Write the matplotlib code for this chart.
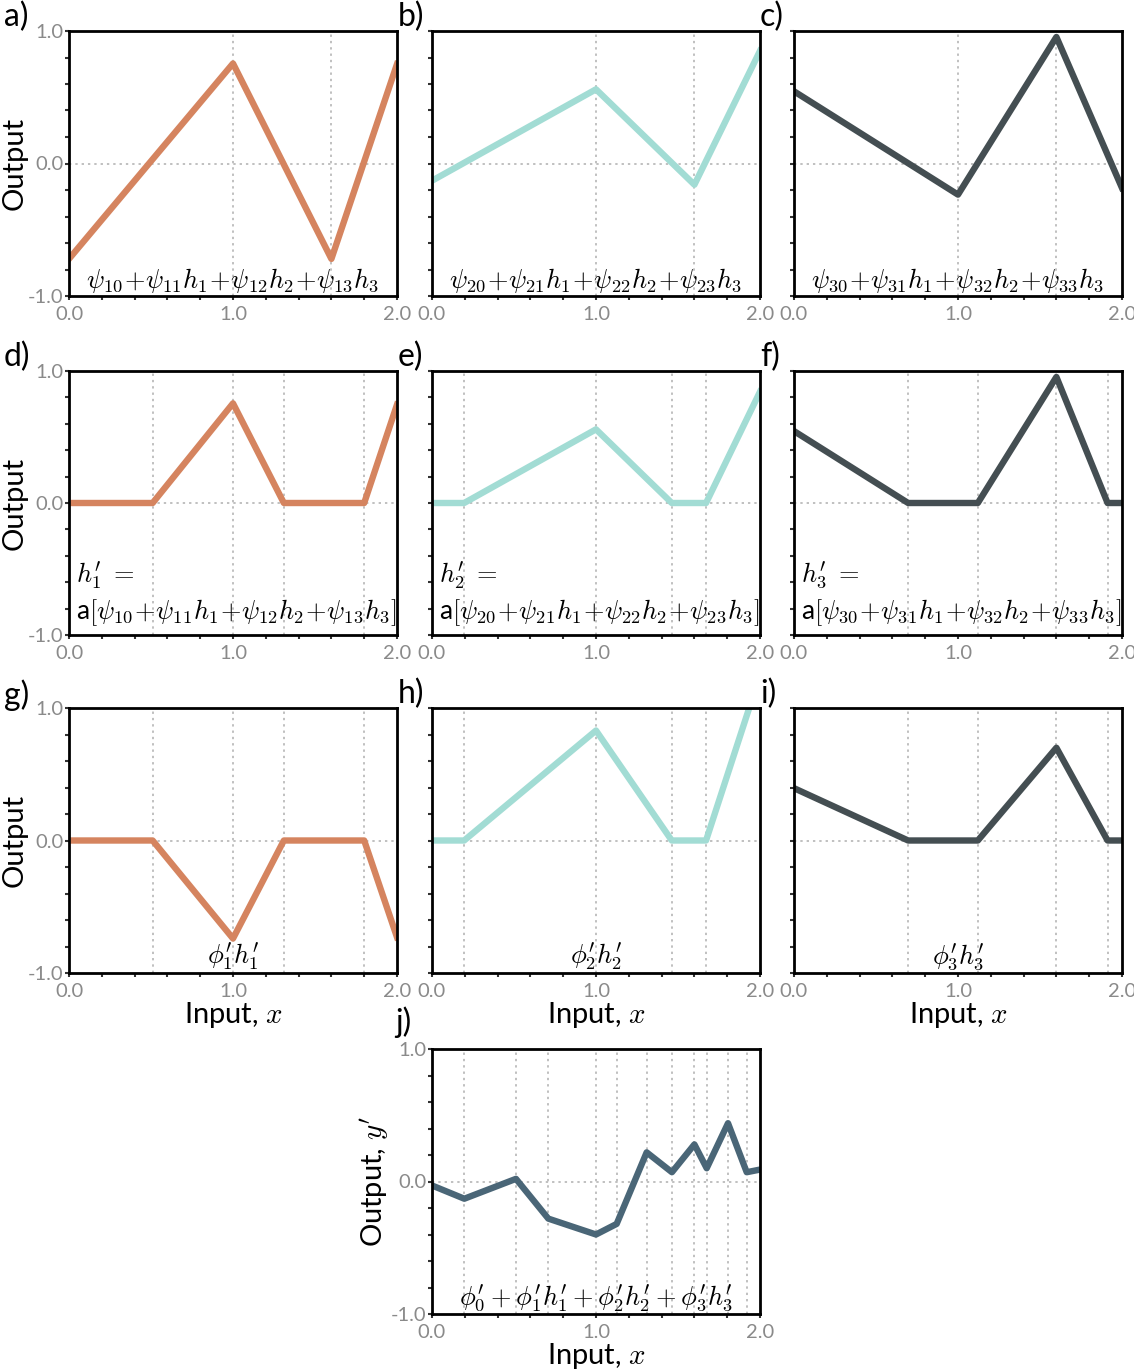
import matplotlib
matplotlib.use("Agg")
import matplotlib.pyplot as plt
from matplotlib.ticker import MultipleLocator, FixedLocator

plt.rcParams['font.family'] = ['Lato', 'DejaVu Sans']
plt.rcParams['mathtext.fontset'] = 'cm'

# ---------------- data ----------------
# first hidden layer pre-activations (panels a-c)
x_pre = [0.0, 1.0, 1.6, 2.0]
a_y = [-0.72, 0.755, -0.72, 0.75]
b_y = [-0.13, 0.56, -0.16, 0.85]
c_y = [0.545, -0.235, 0.955, -0.185]
joints_pre = [1.0, 1.6]

# activated second-layer units (panels d-f)
d_x = [0.0, 0.51, 1.0, 1.31, 1.80, 2.0]
d_y = [0.0, 0.0, 0.755, 0.0, 0.0, 0.745]
e_x = [0.0, 0.196, 1.0, 1.462, 1.671, 2.0]
e_y = [0.0, 0.0, 0.558, 0.0, 0.0, 0.843]
f_x = [0.0, 0.696, 1.121, 1.6, 1.912, 2.0]
f_y = [0.545, 0.0, 0.0, 0.955, 0.0, 0.0]

# weighted units (panels g-i)
g_y = [0.0, 0.0, -0.74, 0.0, 0.0, -0.73]
h_y = [0.0, 0.0, 0.83, 0.0, 0.0, 1.25]
i_y = [0.395, 0.0, 0.0, 0.70, 0.0, 0.0]

# final output (panel j)
j_x = [0.0, 0.197, 0.512, 0.709, 1.0, 1.126, 1.309, 1.463, 1.600, 1.675, 1.805, 1.919, 2.0]
j_y = [-0.03, -0.13, 0.02, -0.28, -0.40, -0.32, 0.22, 0.07, 0.28, 0.10, 0.44, 0.07, 0.09]

x_ticks = [0.0, 1.0, 2.0]
x_ticklabels = ["0.0", "1.0", "2.0"]
y_ticks = [-1.0, 0.0, 1.0]
y_ticklabels = ["-1.0", "0.0", "1.0"]

col_orange = '#D5845F'
col_teal = '#A2DCD4'
col_dark = '#444E52'
col_j = '#4A6677'

labels_pre = [r"$\psi_{10}\!+\!\psi_{11}h_1\!+\!\psi_{12}h_2\!+\!\psi_{13}h_3$",
              r"$\psi_{20}\!+\!\psi_{21}h_1\!+\!\psi_{22}h_2\!+\!\psi_{23}h_3$",
              r"$\psi_{30}\!+\!\psi_{31}h_1\!+\!\psi_{32}h_2\!+\!\psi_{33}h_3$"]
labels_h1 = [r"$h^{\prime}_1\;=$", r"$h^{\prime}_2\;=$", r"$h^{\prime}_3\;=$"]
labels_h2 = [r"a$[\psi_{10}\!+\!\psi_{11}h_1\!+\!\psi_{12}h_2\!+\!\psi_{13}h_3]$",
             r"a$[\psi_{20}\!+\!\psi_{21}h_1\!+\!\psi_{22}h_2\!+\!\psi_{23}h_3]$",
             r"a$[\psi_{30}\!+\!\psi_{31}h_1\!+\!\psi_{32}h_2\!+\!\psi_{33}h_3]$"]
labels_w = [r"$\phi^{\prime}_1h^{\prime}_1$", r"$\phi^{\prime}_2h^{\prime}_2$",
            r"$\phi^{\prime}_3h^{\prime}_3$"]
label_j = (r"$\phi^{\prime}_0 + \phi^{\prime}_1h^{\prime}_1 + "
           r"\phi^{\prime}_2h^{\prime}_2 + \phi^{\prime}_3h^{\prime}_3$")

# ---------------- figure ----------------
W, H = 1134, 1371
fig = plt.figure(figsize=(W / 100, H / 100), dpi=100)

def add_ax(x0, y0, x1, y1):
    return fig.add_axes([x0 / W, 1 - y1 / H, (x1 - x0) / W, (y1 - y0) / H])

def style(ax, xs, ylabels=False, xlabel=None, ylabel=None):
    ax.set_xlim(0, 2)
    ax.set_ylim(-1, 1)
    ax.axhline(0, color='#bbbbbb', lw=1.3, dashes=(1.3, 2.2), zorder=1)
    for xv in xs:
        ax.axvline(xv, color='#bbbbbb', lw=1.3, dashes=(1.3, 2.2), zorder=1)
    ax.xaxis.set_major_locator(FixedLocator(x_ticks))
    ax.set_xticklabels(x_ticklabels)
    ax.xaxis.set_minor_locator(MultipleLocator(0.2))
    ax.yaxis.set_major_locator(FixedLocator(y_ticks))
    ax.yaxis.set_minor_locator(MultipleLocator(0.2))
    if ylabels:
        ax.set_yticklabels(y_ticklabels)
    else:
        ax.set_yticklabels([])
    ax.tick_params(which='both', direction='out', length=3, width=1.5, color='#333333',
                   labelsize=14.5, labelcolor='#8a8a8a')
    ax.tick_params(axis='y', pad=1)
    ax.tick_params(axis='x', pad=4)
    for s in ax.spines.values():
        s.set_linewidth(2.0)
        s.set_color('black')
    if xlabel:
        ax.set_xlabel(xlabel, fontsize=21, labelpad=0)
    if ylabel:
        ax.set_ylabel(ylabel, fontsize=21, labelpad=0)

cols = [(69, 397), (432, 760), (794, 1122)]
rows = [(31, 296), (371, 635), (708, 973)]
colors = [col_orange, col_teal, col_dark]
letters = ['a)', 'b)', 'c)', 'd)', 'e)', 'f)', 'g)', 'h)', 'i)']
lab_x = [4, 398, 760]

pre_y = [a_y, b_y, c_y]
act_x = [d_x, e_x, f_x]
act_y = [d_y, e_y, f_y]
w_y = [g_y, h_y, i_y]

for k in range(3):
    x0, x1 = cols[k]
    # row 1
    ax = add_ax(x0, rows[0][0], x1, rows[0][1])
    style(ax, joints_pre, ylabels=(k == 0), ylabel='Output' if k == 0 else None)
    ax.plot(x_pre, pre_y[k], color=colors[k], lw=4.6, zorder=2)
    ax.text(1.0, -0.88, labels_pre[k], ha='center', va='center', fontsize=19)
    # row 2
    ax = add_ax(x0, rows[1][0], x1, rows[1][1])
    style(ax, act_x[k][1:-1], ylabels=(k == 0), ylabel='Output' if k == 0 else None)
    ax.plot(act_x[k], act_y[k], color=colors[k], lw=4.6, zorder=2)
    ax.text(0.04, -0.55, labels_h1[k], ha='left', va='center', fontsize=19)
    ax.text(0.04, -0.83, labels_h2[k], ha='left', va='center', fontsize=19)
    # row 3
    ax = add_ax(x0, rows[2][0], x1, rows[2][1])
    style(ax, act_x[k][1:-1], ylabels=(k == 0), xlabel=r'Input, $x$',
          ylabel='Output' if k == 0 else None)
    ax.plot(act_x[k], w_y[k], color=colors[k], lw=4.6, zorder=2)
    ax.text(1.0, -0.88, labels_w[k], ha='center', va='center', fontsize=19)

for r in range(3):
    for k in range(3):
        fig.text(lab_x[k] / W, 1 - (rows[r][0] - 29) / H, letters[r * 3 + k],
                 fontsize=23, ha='left', va='top')

# panel j
ax = add_ax(432, 1049, 760, 1314)
style(ax, j_x[1:-1], ylabels=True, xlabel=r'Input, $x$', ylabel=r"Output, $y^{\prime}$")
ax.plot(j_x, j_y, color=col_j, lw=4.6, zorder=2)
ax.text(1.0, -0.88, label_j, ha='center', va='center', fontsize=19)
fig.text(395 / W, 1 - (1049 - 43) / H, 'j)', fontsize=23, ha='left', va='top')

fig.savefig('out.png', dpi=100)
